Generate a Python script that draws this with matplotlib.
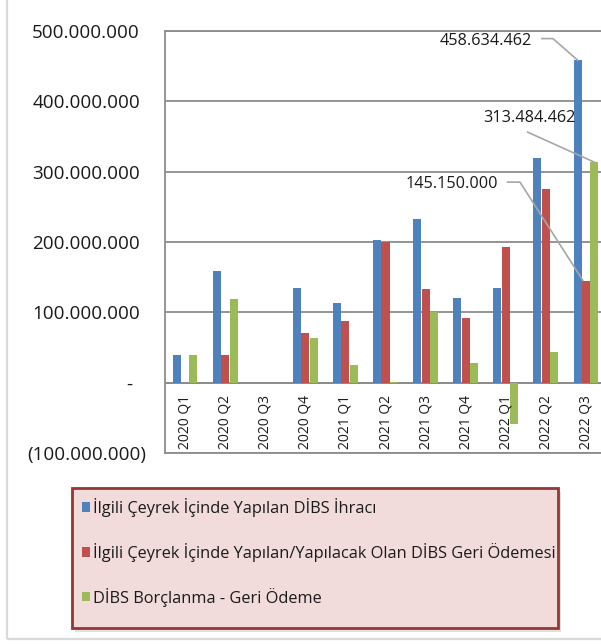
import matplotlib
matplotlib.use("Agg")
import matplotlib.pyplot as plt
import matplotlib.transforms as mtransforms
from matplotlib.patches import Rectangle
import numpy as np

categories = ["2020 Q1", "2020 Q2", "2020 Q3", "2020 Q4", "2021 Q1", "2021 Q2",
              "2021 Q3", "2021 Q4", "2022 Q1", "2022 Q2", "2022 Q3"]
issuance = [40e6, 159e6, 0, 134.7e6, 113.4e6, 203e6, 232.8e6, 120.5e6, 134.7e6, 319.5e6, 458634462]
repayment = [0, 40e6, 0, 70.7e6, 87.8e6, 200.6e6, 132.7e6, 92.4e6, 193e6, 275.4e6, 145150000]
net = [40e6, 119e6, 0, 64e6, 25.6e6, 1.5e6, 100.1e6, 28.1e6, -58.3e6, 44.1e6, 313484462]
series_names = ["İlgili Çeyrek İçinde Yapılan DİBS İhracı",
                "İlgili Çeyrek İçinde Yapılan/Yapılacak Olan DİBS Geri Ödemesi",
                "DİBS Borçlanma - Geri Ödeme"]
yticks = [-100e6, 0, 100e6, 200e6, 300e6, 400e6, 500e6]
ytick_labels = ["(100.000.000)", "-", "100.000.000", "200.000.000",
                "300.000.000", "400.000.000", "500.000.000"]

colors = ["#4f81bd", "#c0504d", "#9bbb59"]
FONT = ["Open Sans", "DejaVu Sans"]
plt.rcParams["font.family"] = FONT
TXT = "#1a1a1a"
GRID = "#8c8c8c"

W, H = 601, 644
fig = plt.figure(figsize=(W / 100, H / 100), dpi=100)
fig.patch.set_facecolor("white")

# outer chart border (light gray)
fig.patches.append(Rectangle((7 / W, 1 - 639 / H), 1.2, 1.2, transform=fig.transFigure,
                             fill=False, edgecolor="#d9d9d9", linewidth=1.6))

left, right, top, bottom = 165, 606, 31, 453
ax = fig.add_axes([left / W, 1 - bottom / H, (right - left) / W, (bottom - top) / H])

x = np.arange(len(categories))
bw = 0.2
offs = [-0.21, 0.0, 0.21]
for vals, off, c, name in zip([issuance, repayment, net], offs, colors, series_names):
    ax.bar(x + off, vals, width=bw, color=c, linewidth=0, label=name, zorder=3)

ax.set_xlim(-0.5, len(categories) - 0.5)
ax.set_ylim(-100e6, 500e6)
ax.set_yticks(yticks)
ax.set_yticklabels(ytick_labels)
ax.tick_params(axis="y", length=0, pad=18, labelsize=13.6, labelcolor=TXT)
# accounting-style alignment: ")" hangs right, dash sits inward
shifts = {"(100.000.000)": 6, "-": -8}
for lbl in ax.get_yticklabels():
    dx = shifts.get(lbl.get_text(), 0)
    if dx:
        lbl.set_transform(lbl.get_transform() +
                          mtransforms.ScaledTranslation(dx / 100, 0, fig.dpi_scale_trans))
ax.set_xticks([])
ax.yaxis.grid(True, color=GRID, linewidth=1.3, zorder=1)
ax.set_axisbelow(True)
for s in ["left", "top", "bottom"]:
    ax.spines[s].set_color(GRID)
    ax.spines[s].set_linewidth(1.3)
ax.spines["right"].set_visible(False)
ax.axhline(0, color=GRID, linewidth=1.3, zorder=2)

# category labels hanging below zero line
for xi, cat in zip(x, categories):
    ax.annotate(cat, xy=(xi, 0), xytext=(0, -12), textcoords="offset pixels",
                rotation=90, ha="center", va="top", fontsize=10, color=TXT)

# data labels with leader lines for last quarter
last = len(categories) - 1
lab_specs = [
    (issuance[last], offs[0], (-46, 19), [(-35.6, 21.5), (-24.6, 21.5), (0, 0)], "458.634.462"),
    (net[last], offs[2], (-19, 44), [(-66.7, 30), (0, 0)], "313.484.462"),
    (repayment[last], offs[1], (-88, 97), [(-78.3, 98.5), (-66, 98.5), (-3, 0)], "145.150.000"),
]
for val, off, toff, path, txt in lab_specs:
    xp = last + off
    ax.annotate(txt, xy=(xp, val), xytext=toff, textcoords="offset pixels",
                ha="right", va="center", fontsize=11.7, color=TXT, zorder=6)
    tr = mtransforms.Affine2D() + mtransforms.ScaledTranslation(xp, val, ax.transData)
    px = [p[0] for p in path]
    py = [p[1] for p in path]
    ax.plot(px, py, transform=tr, color="#a6a6a6", linewidth=1.2, zorder=5, clip_on=False)

# legend box (shadow + frame) drawn as figure patches
lx0, ly0, lx1, ly1 = 72, 488, 558, 628
fig.patches.append(Rectangle(((lx0 + 3) / W, 1 - (ly1 + 4) / H), (lx1 - lx0) / W, (ly1 - ly0) / H,
                             transform=fig.transFigure, facecolor="#c8c8c8", alpha=0.55,
                             edgecolor="none", zorder=0))
fig.patches.append(Rectangle((lx0 / W, 1 - ly1 / H), (lx1 - lx0) / W, (ly1 - ly0) / H,
                             transform=fig.transFigure, facecolor="#f2dcdb",
                             edgecolor="#953735", linewidth=2, zorder=1))

leg = fig.legend(loc="upper left",
                 bbox_to_anchor=(lx0 / W, 1 - ly1 / H, (lx1 - lx0) / W, (ly1 - ly0) / H),
                 mode="expand", borderaxespad=0, fontsize=11.8, frameon=False,
                 handlelength=0.5, handleheight=0.5, handletextpad=0.2,
                 labelspacing=1.58, borderpad=0.6)
for t in leg.get_texts():
    t.set_color(TXT)

fig.savefig("out.png", dpi=100)
